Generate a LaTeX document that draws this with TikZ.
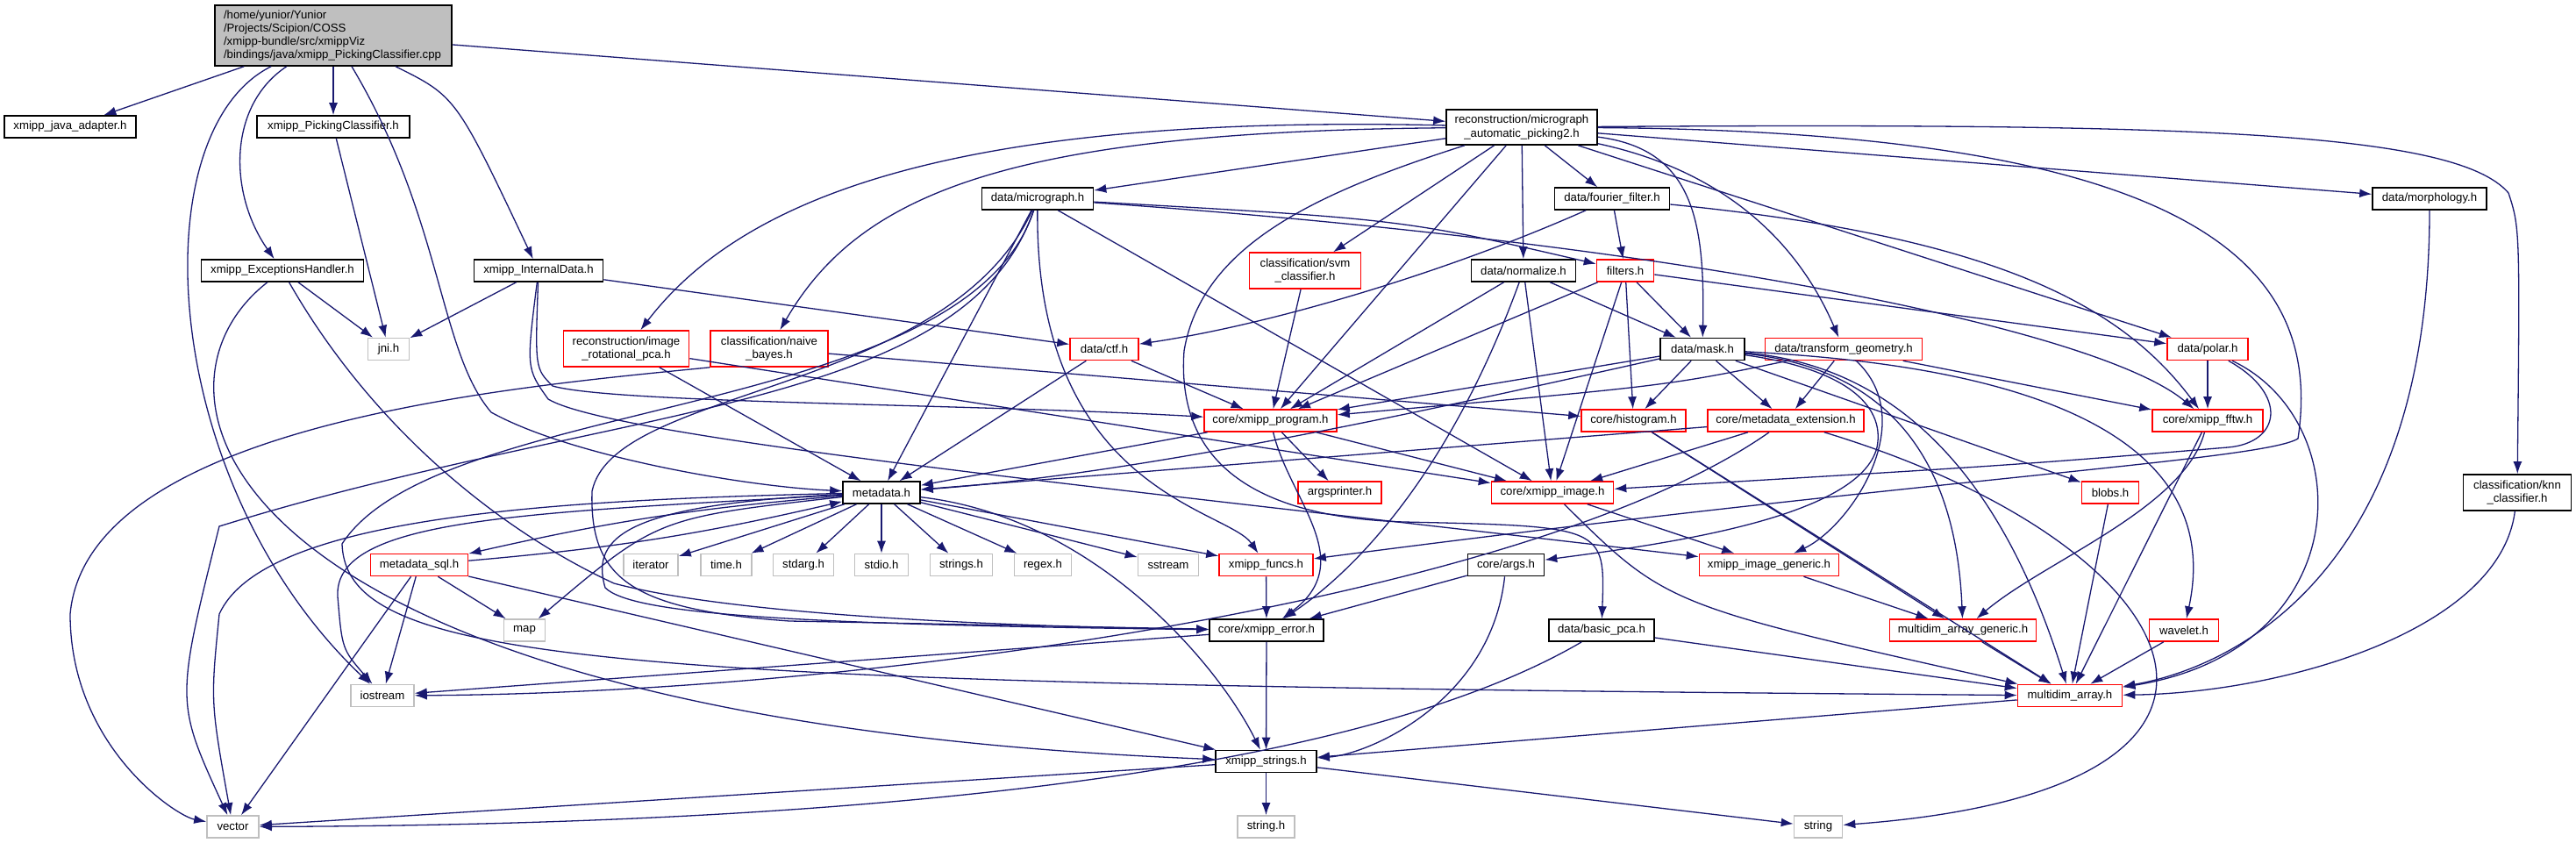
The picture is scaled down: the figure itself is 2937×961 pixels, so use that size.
\documentclass[tikz,border=0pt]{standalone}
\usepackage{fontspec}
\setmainfont{Liberation Sans}
\usetikzlibrary{arrows.meta}

\definecolor{depblue}{HTML}{191970}
\definecolor{sysgray}{HTML}{BFBFBF}

\tikzset{
  hfile/.style={draw=black, line width=0.8pt, fill=white, inner sep=0pt,
    minimum height=12.5pt, align=center, font=\fontsize{6.6}{7.6}\selectfont},
  redfile/.style={hfile, draw=red},
  sysfile/.style={hfile, draw=sysgray},
  srcfile/.style={hfile, fill=sysgray, align=left, text width=125pt,
    inner xsep=5pt, minimum height=34.5pt},
  dep/.style={depblue, line width=0.65pt, -{Latex[length=7pt,width=5pt]}}
}

\begin{document}
\begin{tikzpicture}[x=0.5pt, y=-0.5pt]
  \useasboundingbox (0,0) rectangle (2937,961);

  % the source file
  \node[srcfile] (main) at (380,40.5) {/home/yunior/Yunior\\/Projects/Scipion/COSS\\/xmipp-bundle/src/xmippViz\\/bindings/java/xmipp\_PickingClassifier.cpp};

  % headers, row by row
  \node[hfile, minimum width=75pt] (jadapter) at (80,144.5) {xmipp\_java\_adapter.h};
  \node[hfile, minimum width=87pt] (pclass) at (380,144.5) {xmipp\_PickingClassifier.h};
  \node[hfile, minimum width=86pt, minimum height=20pt] (pick2) at (1735,145) {reconstruction/micrograph\\\_automatic\_picking2.h};

  \node[hfile, minimum width=63.5pt] (micro) at (1183,226.5) {data/micrograph.h};
  \node[hfile, minimum width=65.5pt] (fourier) at (1838,226.5) {data/fourier\_filter.h};
  \node[hfile, minimum width=65pt] (morph) at (2770,226.5) {data/morphology.h};

  \node[hfile, minimum width=92.5pt] (exch) at (322,308.5) {xmipp\_ExceptionsHandler.h};
  \node[hfile, minimum width=73.5pt] (idata) at (614,308.5) {xmipp\_InternalData.h};
  \node[redfile, minimum width=63.5pt, minimum height=20.5pt] (svm) at (1488,308.5) {classification/svm\\\_classifier.h};
  \node[hfile, minimum width=59.5pt] (norm) at (1737,308.5) {data/normalize.h};
  \node[redfile, minimum width=32.5pt] (filters) at (1853,308.5) {filters.h};

  \node[sysfile, minimum width=23.5pt] (jni) at (443,398) {jni.h};
  \node[redfile, minimum width=71.5pt, minimum height=20.5pt] (rpca) at (714,397.5) {reconstruction/image\\\_rotational\_pca.h};
  \node[redfile, minimum width=67pt, minimum height=20.5pt] (nbayes) at (877,397.5) {classification/naive\\\_bayes.h};
  \node[redfile, minimum width=39pt] (ctf) at (1259,398) {data/ctf.h};
  \node[hfile, minimum width=48pt] (mask) at (1941,398) {data/mask.h};
  \node[redfile, minimum width=89.5pt] (tgeom) at (2102,398) {data/transform\_geometry.h};
  \node[redfile, minimum width=46pt] (polar) at (2517,398) {data/polar.h};

  \node[redfile, minimum width=75.5pt] (prog) at (1448.5,479.5) {core/xmipp\_program.h};
  \node[redfile, minimum width=59.5pt] (hist) at (1862.5,479.5) {core/histogram.h};
  \node[redfile, minimum width=89pt] (mdext) at (2036,479.5) {core/metadata\_extension.h};
  \node[redfile, minimum width=63pt] (fftw) at (2517,479.5) {core/xmipp\_fftw.h};

  \node[hfile, minimum width=44pt] (meta) at (1005,561.5) {metadata.h};
  \node[redfile, minimum width=47.5pt] (argsp) at (1527.5,561.5) {argsprinter.h};
  \node[redfile, minimum width=69.5pt] (ximg) at (1770,561.5) {core/xmipp\_image.h};
  \node[redfile, minimum width=32.5pt] (blobs) at (2406,561.5) {blobs.h};
  \node[hfile, minimum width=61.5pt, minimum height=20.5pt] (knn) at (2870,561.5) {classification/knn\\\_classifier.h};

  \node[redfile, minimum width=55.5pt] (msql) at (478,644) {metadata\_sql.h};
  \node[sysfile, minimum width=31pt] (iter) at (742,644) {iterator};
  \node[sysfile, minimum width=29pt] (timeh) at (828,644) {time.h};
  \node[sysfile, minimum width=34.5pt] (stdarg) at (916,644) {stdarg.h};
  \node[sysfile, minimum width=30.5pt] (stdio) at (1005,644) {stdio.h};
  \node[sysfile, minimum width=35.5pt] (stringsh) at (1096,644) {strings.h};
  \node[sysfile, minimum width=32.5pt] (regex) at (1189,644) {regex.h};
  \node[sysfile, minimum width=34.5pt] (sstream) at (1332,644) {sstream};
  \node[redfile, minimum width=53.5pt] (funcs) at (1443.5,644) {xmipp\_funcs.h};
  \node[hfile, minimum width=43.5pt] (args) at (1717,644) {core/args.h};
  \node[redfile, minimum width=79.5pt] (imggen) at (2017,644) {xmipp\_image\_generic.h};

  \node[sysfile, minimum width=23.5pt] (map) at (598,718.5) {map};
  \node[hfile, minimum width=65pt] (xerr) at (1444,718.5) {core/xmipp\_error.h};
  \node[hfile, minimum width=60pt] (bpca) at (1826,718.5) {data/basic\_pca.h};
  \node[redfile, minimum width=83.5pt] (magen) at (2238,718.5) {multidim\_array\_generic.h};
  \node[redfile, minimum width=39.5pt] (wavelet) at (2490,718.5) {wavelet.h};

  \node[sysfile, minimum width=36pt] (iostream) at (436,793) {iostream};
  \node[redfile, minimum width=59.5pt] (marray) at (2360,793) {multidim\_array.h};
  \node[hfile, minimum width=57.5pt] (xstr) at (1443.5,868) {xmipp\_strings.h};
  \node[sysfile, minimum width=29.5pt] (vector) at (265.5,942.5) {vector};
  \node[sysfile, minimum width=32.5pt] (stringh) at (1443.5,942.5) {string.h};
  \node[sysfile, minimum width=27.5pt] (string) at (2073,942.5) {string};

  % straight includes
  \foreach \a/\b in {main/jadapter, main/pclass, main/pick2, pclass/jni, exch/jni,
      idata/jni, idata/ctf, pick2/micro, pick2/fourier, pick2/svm, pick2/norm,
      pick2/prog, pick2/morph, pick2/polar, micro/meta, micro/ximg, fourier/filters,
      svm/prog, norm/prog, norm/mask, norm/ximg, filters/mask, filters/hist,
      filters/prog, filters/polar, filters/ximg, ctf/meta, ctf/prog, mask/prog,
      mask/hist, mask/mdext, mask/blobs, tgeom/mdext, tgeom/fftw, polar/fftw,
      rpca/meta, rpca/ximg, nbayes/hist, prog/argsp, prog/ximg, prog/meta,
      hist/magen, hist/marray, mdext/meta, mdext/ximg, fftw/marray, meta/iter,
      meta/timeh, meta/stdarg, meta/stdio, meta/stringsh, meta/regex, meta/sstream,
      meta/funcs, msql/map, msql/iostream, msql/vector, msql/xstr, ximg/imggen,
      funcs/xerr, args/xerr, xerr/xstr, xerr/iostream, imggen/magen, magen/marray,
      wavelet/marray, blobs/marray, bpca/marray, marray/xstr, xstr/stringh,
      xstr/vector, xstr/string}
    \draw[dep] (\a) -- (\b);

  % includes routed round other boxes
  \draw[dep] (main) .. controls (160,150) and (180,550) .. (iostream);
  \draw[dep] (main) .. controls (505,250) and (500,400) .. (560,470) .. controls (650,520) and (850,555) .. (meta);
  \draw[dep] (main) .. controls (260,120) and (260,220) .. (exch);
  \draw[dep] (main) .. controls (520,110) .. (idata);
  \draw[dep] (exch) .. controls (140,450) and (250,820) .. (xstr);
  \draw[dep] (exch) .. controls (420,480) and (560,600) .. (700,665) .. controls (850,705) and (1200,715) .. (xerr);
  \draw[dep] (idata) .. controls (610,420) .. (630,440) .. controls (700,460) and (1100,460) .. (prog);
  \draw[dep] (idata) .. controls (600,420) .. (625,455) .. controls (700,500) and (1300,560) .. (imggen);
  \draw[dep] (nbayes.south west) .. controls (600,440) and (100,480) .. (80,700) .. controls (80,850) and (200,930) .. (vector);

  \draw[dep] (pick2) .. controls (1100,130) and (850,220) .. (rpca);
  \draw[dep] (pick2) .. controls (1150,150) and (980,220) .. (nbayes);
  \draw[dep] (pick2) .. controls (1930,170) and (1944,250) .. (mask);
  \draw[dep] (pick2) .. controls (1990,200) and (2060,300) .. (tgeom);
  \draw[dep] (pick2) .. controls (2500,140) and (2800,150) .. (2860,220) .. controls (2873,260) .. (knn);
  \draw[dep] (pick2) .. controls (1500,220) and (1370,280) .. (1350,400) .. controls (1340,540) and (1450,590) .. (1600,595) .. controls (1830,600) .. (bpca);
  \draw[dep] (pick2) .. controls (2500,150) and (2650,300) .. (2620,500) .. controls (2580,525) and (2200,545) .. (funcs);

  \draw[dep] (micro) .. controls (1600,250) .. (filters);
  \draw[dep] (micro) .. controls (1950,280) and (2400,380) .. (fftw);
  \draw[dep] (micro) .. controls (1180,560) and (1400,580) .. (funcs);
  \draw[dep] (micro) .. controls (1100,470) and (700,460) .. (250,600) .. controls (200,800) .. (vector);
  \draw[dep] (micro) .. controls (1100,480) and (500,450) .. (390,620) .. controls (395,760) and (700,780) .. (marray);
  \draw[dep] (micro) .. controls (1080,450) and (700,440) .. (675,560) .. controls (672,660) and (720,695) .. (900,708) -- (xerr);

  \draw[dep] (fourier) .. controls (1650,310) and (1450,370) .. (ctf);
  \draw[dep] (fourier) .. controls (2280,270) and (2420,350) .. (fftw);
  \draw[dep] (norm) .. controls (1660,520) and (1560,640) .. (xerr);

  \draw[dep] (mask) .. controls (1620,470) and (1300,540) .. (meta);
  \draw[dep] (mask) .. controls (2100,420) and (2150,460) .. (2140,510) .. controls (2120,590) and (1900,620) .. (args);
  \draw[dep] (mask) .. controls (2150,420) and (2230,520) .. (magen);
  \draw[dep] (mask) .. controls (2200,420) and (2300,600) .. (marray);
  \draw[dep] (mask) .. controls (2150,410) and (2550,440) .. (wavelet);
  \draw[dep] (tgeom) .. controls (1900,440) .. (prog);
  \draw[dep] (tgeom) .. controls (2190,480) and (2110,600) .. (imggen);

  \draw[dep] (polar) .. controls (2610,450) and (2600,505) .. (2540,510) .. controls (2300,530) .. (ximg);
  \draw[dep] (polar) .. controls (2690,480) and (2690,740) .. (marray);
  \draw[dep] (morph) .. controls (2770,650) and (2550,760) .. (marray);
  \draw[dep] (knn) .. controls (2850,720) and (2600,790) .. (marray);
  \draw[dep] (fftw) .. controls (2490,580) and (2330,640) .. (magen);
  \draw[dep] (mdext) .. controls (1750,680) and (1000,790) .. (iostream);
  \draw[dep] (mdext) .. controls (2500,620) and (2650,900) .. (string);
  \draw[dep] (prog) .. controls (1470,570) and (1550,640) .. (xerr);

  \draw[dep] (meta) .. controls (620,570) and (300,590) .. (250,700) .. controls (240,800) .. (vector);
  \draw[dep] (meta) .. controls (600,585) and (380,590) .. (385,680) .. controls (390,740) .. (iostream);
  \draw[dep] (meta) .. controls (720,575) and (672,610) .. (690,670) .. controls (720,700) and (900,712) .. (xerr);
  \draw[dep] (meta) .. controls (750,590) .. (map);
  \draw[dep] (meta) .. controls (1250,590) and (1390,760) .. (xstr);
  \draw[dep] (meta) to[bend right=4] (msql);
  \draw[dep] (msql) to[bend right=4] (meta);
  \draw[dep] (ximg) .. controls (1900,690) .. (marray);
  \draw[dep] (args) .. controls (1700,800) and (1560,860) .. (xstr);
  \draw[dep] (bpca) .. controls (1550,880) and (1000,940) .. (vector);
\end{tikzpicture}
\end{document}
